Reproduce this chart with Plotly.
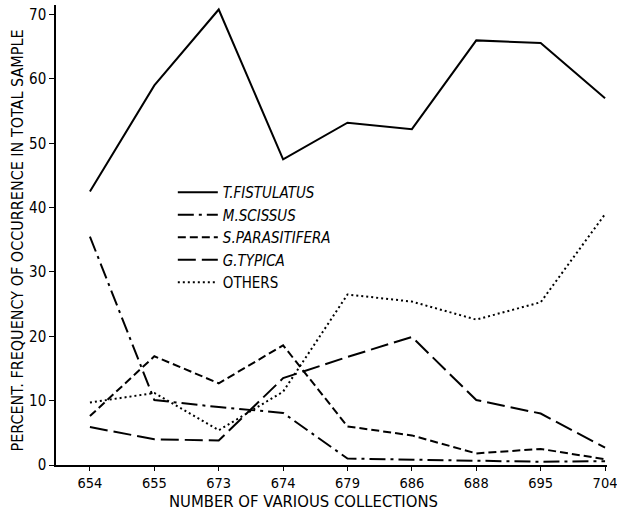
import plotly.graph_objects as go

collections = ["654", "655", "673", "674", "679", "686", "688", "695", "704"]
t_fistulatus = [42.5, 59.0, 70.8, 47.5, 53.2, 52.2, 66.0, 65.6, 57.0]
m_scissus = [35.5, 10.1, 9.0, 8.1, 1.0, 0.8, 0.6, 0.5, 0.6]
s_parasitifera = [7.6, 16.9, 12.7, 18.6, 6.0, 4.6, 1.8, 2.5, 0.9]
g_typica = [5.9, 4.0, 3.8, 13.5, 16.8, 19.9, 10.1, 8.0, 2.7]
others = [9.7, 11.2, 5.4, 11.4, 26.5, 25.4, 22.6, 25.3, 39.0]

y_ticks = [0, 10, 20, 30, 40, 50, 60, 70]

FONT = "DejaVu Sans Condensed, sans-serif"

series = [
    ("<i>T.FISTULATUS</i>", t_fistulatus, "solid"),
    ("<i>M.SCISSUS</i>", m_scissus, "16px,5px,3px,5px"),
    ("<i>S.PARASITIFERA</i>", s_parasitifera, "8px,4px"),
    ("<i>G.TYPICA</i>", g_typica, "18px,6px"),
    ("OTHERS", others, "2px,3px"),
]

fig = go.Figure()
for name, vals, dash in series:
    fig.add_trace(go.Scatter(
        x=collections, y=vals, mode="lines", name=name,
        line=dict(color="black", width=2, dash=dash),
    ))

fig.update_layout(
    width=617, height=511,
    margin=dict(l=56, r=10, t=5, b=46, autoexpand=False),
    paper_bgcolor="white", plot_bgcolor="white",
    font=dict(family=FONT, size=14, color="black"),
    showlegend=True,
    legend=dict(
        x=0.212, y=0.628, xanchor="left", yanchor="top",
        bgcolor="rgba(0,0,0,0)", font=dict(size=15, family=FONT),
        itemwidth=40, tracegroupgap=0,
    ),
    xaxis=dict(
        type="category", range=[-0.527, 8.03], automargin=False,
        showline=True, linecolor="black", linewidth=1.5,
        ticks="outside", ticklen=4, tickcolor="black",
        showgrid=False, zeroline=False,
        tickfont=dict(size=14.5),
    ),
    yaxis=dict(
        range=[0, 71.5], tickvals=y_ticks, automargin=False,
        showline=True, linecolor="black", linewidth=1.5,
        ticks="outside", ticklen=5, tickcolor="black",
        showgrid=False, zeroline=False,
        tickfont=dict(size=15),
    ),
    annotations=[
        dict(text="PERCENT. FREQUENCY OF OCCURRENCE IN TOTAL SAMPLE",
             xref="paper", yref="paper", x=0, y=0.488, xshift=-38,
             xanchor="center", yanchor="middle", textangle=-90,
             showarrow=False, font=dict(size=16)),
        dict(text="NUMBER OF VARIOUS COLLECTIONS",
             xref="paper", yref="paper", x=0.45, y=0, yshift=-36,
             xanchor="center", yanchor="middle",
             showarrow=False, font=dict(size=16.5)),
    ],
)

fig.write_html("out.html", post_script="document.body.style.margin='0';",
               config={"displayModeBar": False})
